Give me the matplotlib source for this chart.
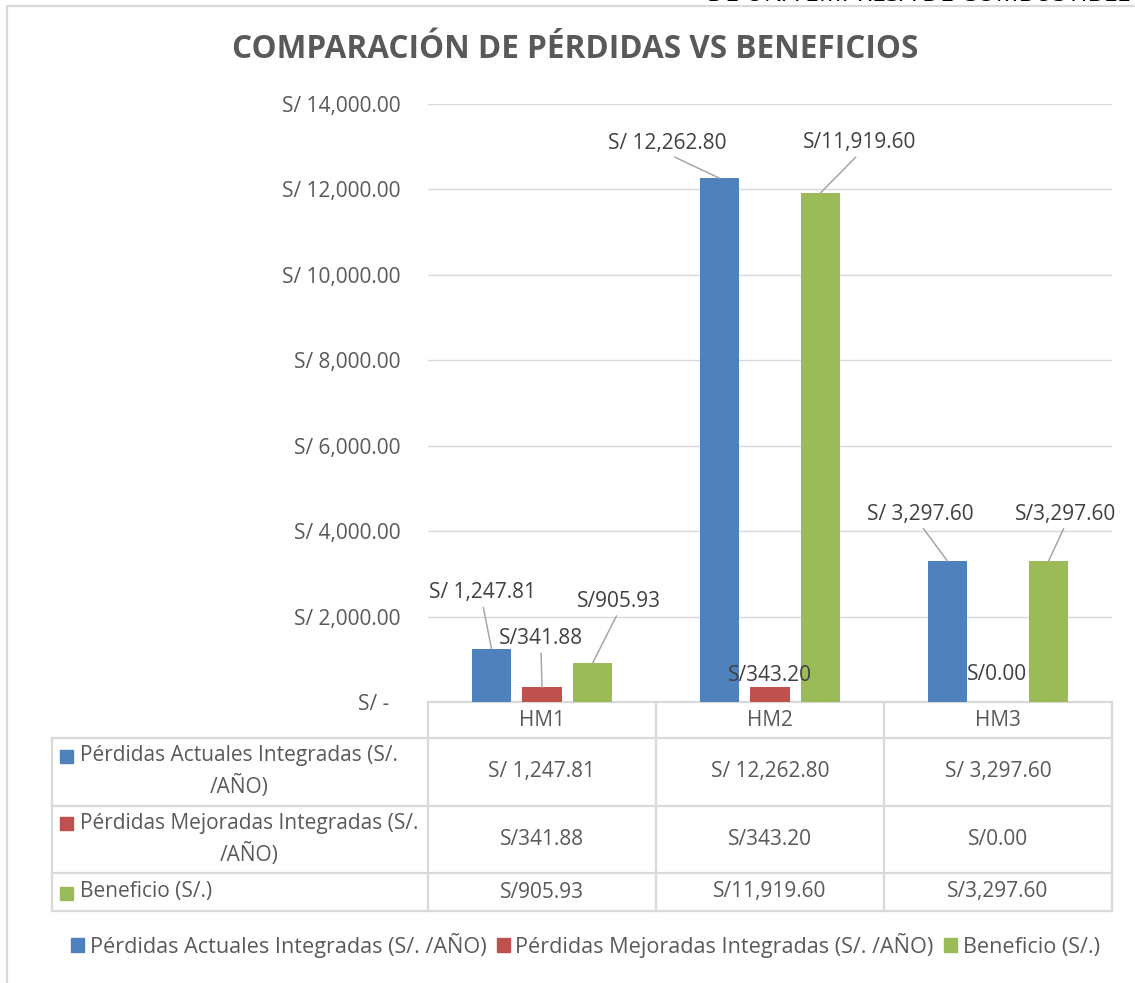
import numpy as np
import matplotlib; matplotlib.use("Agg")
import matplotlib.pyplot as plt
from matplotlib.patches import Rectangle
from matplotlib.ticker import FuncFormatter

plt.rcParams.update({"font.family": ["Open Sans", "DejaVu Sans"], "text.color": "#595959"})

# data
categories = ["HM1", "HM2", "HM3"]
series = ["Pérdidas Actuales Integradas (S/. /AÑO)",
          "Pérdidas Mejoradas Integradas (S/. /AÑO)",
          "Beneficio (S/.)"]
actuales = [1247.81, 12262.80, 3297.60]
mejoradas = [341.88, 343.20, 0.00]
beneficio = [905.93, 11919.60, 3297.60]
prefixes = ["S/ ", "S/", "S/"]
colors = ["#4F81BD", "#C0504D", "#9BBB59"]
title = "COMPARACIÓN DE PÉRDIDAS VS BENEFICIOS"
yticks = [0, 2000, 4000, 6000, 8000, 10000, 12000, 14000]

values = [actuales, mejoradas, beneficio]
# label offsets (pixels) relative to bar top, and whether a leader line is drawn
lab_off = [[(-9, 56), (-52, 35), (-27, 47)],
           [(-1, 49), (0, 12), (-1, 27)],
           [(26, 62), (39, 50), (17, 47)]]
leader = [[True, True, True], [True, False, False], [True, True, True]]

W, H = 1135, 983
FS = 15
fig = plt.figure(figsize=(W / 100, H / 100), dpi=100)
GRID = "#d9d9d9"

# overlay axes in pixel coordinates for frame/table/legend
ov = fig.add_axes([0, 0, 1, 1], zorder=0)
ov.set_xlim(0, W); ov.set_ylim(H, 0); ov.axis("off")
ov.plot([6.5, 6.5, W], [H, 5.5, 5.5], color=GRID, lw=1.6)
ov.text(1131, 1, "DE UNA EMPRESA DE COMBUSTIBLE", ha="right", va="baseline",
        fontsize=18, color="black")

L, R, T, B = 428, 1112, 104, 702
ax = fig.add_axes([L / W, 1 - B / H, (R - L) / W, (B - T) / H], zorder=2)
ax.patch.set_alpha(0)
x = np.arange(len(categories))
bw = 0.175
offs = [-0.2215, 0.0, 0.2215]
for i, (vals, c) in enumerate(zip(values, colors)):
    ax.bar(x + offs[i], vals, width=bw, color=c, zorder=3)
    for j, v in enumerate(vals):
        txt = f"{prefixes[i]}{v:,.2f}"
        ap = dict(arrowstyle="-", color="#a6a6a6", lw=1.1, relpos=(0.5, 0.0),
                  shrinkA=1, shrinkB=0) if leader[i][j] else None
        ax.annotate(txt, xy=(x[j] + offs[i], v), xytext=lab_off[i][j],
                    textcoords="offset pixels", ha="center", va="center",
                    fontsize=FS, color="#404040", arrowprops=ap, zorder=5)

ax.set_xlim(-0.5, len(categories) - 0.5)
ax.set_ylim(0, 14000)
ax.set_yticks(yticks)
ax.yaxis.set_major_formatter(FuncFormatter(lambda v, p: "S/ -  " if v == 0 else f"S/ {v:,.2f}"))
ax.tick_params(axis="y", length=0, pad=20, labelsize=FS, labelcolor="#595959")
ax.set_xticks([])
ax.grid(axis="y", color=GRID, lw=1.0, zorder=0)
for s in ["top", "left", "right", "bottom"]:
    ax.spines[s].set_visible(False)

fig.text(0.5 * (232 + 918) / W, 1 - 49 / H, title, ha="center", va="center",
         fontsize=22.7, fontweight="bold", color="#595959")

# data table below the axis
col_edges = [L, 656, 884, R]
row_edges = [B, 738, 806, 873, 911]
tl = dict(color=GRID, lw=1.6)
ov.plot([L, R], [B, B], **tl)
for yv in row_edges[1:]:
    ov.plot([52, R], [yv, yv], **tl)
for xv in col_edges:
    ov.plot([xv, xv], [B, row_edges[-1]], **tl)
ov.plot([52, 52], [row_edges[1], row_edges[-1]], **tl)

for j, cat in enumerate(categories):
    cx = (col_edges[j] + col_edges[j + 1]) / 2
    ov.text(cx, (row_edges[0] + row_edges[1]) / 2, cat, ha="center", va="center", fontsize=FS)
    for i, vals in enumerate(values):
        cy = (row_edges[i + 1] + row_edges[i + 2]) / 2
        ov.text(cx, cy, f"{prefixes[i]}{vals[j]:,.2f}", ha="center", va="center", fontsize=FS)

for i, name in enumerate(series):
    y0, y1 = row_edges[i + 1], row_edges[i + 2]
    cy = (y0 + y1) / 2
    if " /" in name:
        ov.text(80, cy, name.replace(" /", "\n/"), ha="left", va="center",
                multialignment="center", fontsize=FS, linespacing=1.5)
        sq_y = cy - 16
    else:
        ov.text(80, cy, name, ha="left", va="center", fontsize=FS)
        sq_y = cy + 1
    ov.add_patch(Rectangle((60, sq_y - 6.5), 13, 13, color=colors[i]))

# legend
handles = [Rectangle((0, 0), 1, 1, color=c) for c in colors]
fig.legend(handles, series, loc="center", bbox_to_anchor=(0.5 * (68 + 1103) / W, 1 - 945 / H),
           ncol=3, frameon=False, fontsize=15.6, handlelength=0.6, handleheight=0.6,
           handletextpad=0.25, columnspacing=0.5, labelcolor="#595959")

fig.savefig("out.png", dpi=100)
